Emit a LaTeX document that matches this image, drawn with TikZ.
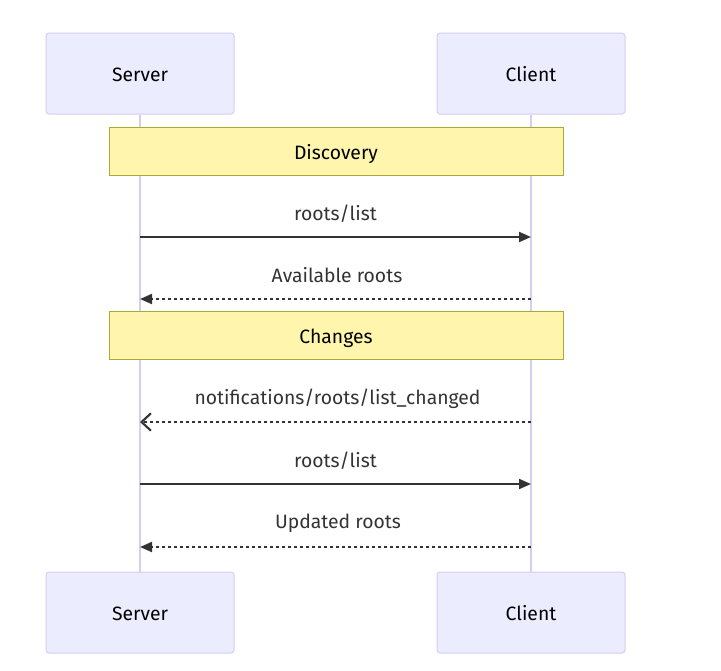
\documentclass[tikz,border=0pt]{standalone}
\usepackage{fontspec}
\setmainfont{Fira Sans}
\usetikzlibrary{arrows.meta}
\definecolor{actorfill}{HTML}{ECECFF}
\definecolor{actorline}{HTML}{D5CDF2}
\definecolor{notefill}{HTML}{FFF5AD}
\definecolor{noteline}{HTML}{AAAA33}
\definecolor{msgcolor}{HTML}{333333}

\begin{document}
\begin{tikzpicture}[x=0.75pt,y=0.75pt,yscale=-1,xscale=1,
  actor/.style={draw=actorline,fill=actorfill,rounded corners=2.25pt,line width=0.75pt,
    minimum width=141pt,minimum height=60.75pt,inner sep=0pt,text height=12pt,text depth=0pt,
    font=\fontsize{14.5}{17}\selectfont},
  lifeline/.style={draw=actorline,line width=1.5pt},
  notebox/.style={draw=noteline,fill=notefill,line width=0.75pt,
    minimum width=340.5pt,minimum height=36pt,inner sep=0pt,text height=12pt,text depth=0pt,
    font=\fontsize{14.5}{17}\selectfont},
  msgtext/.style={text=msgcolor,inner sep=0pt,font=\fontsize{14.5}{17}\selectfont},
  msg/.style={draw=msgcolor,line width=1.5pt,-{Triangle[length=9pt,width=7.5pt]}},
  reply/.style={msg,dash pattern=on 2.25pt off 2.25pt},
  async/.style={draw=msgcolor,line width=1.5pt,dash pattern=on 2.25pt off 2.25pt,
    -{Straight Barb[length=7pt,width=13pt,line width=1.6pt]}}]
\useasboundingbox (0,0) rectangle (721,671);

% actors
\node[actor] (srvtop) at (140,73.5) {Server};
\node[actor] (clttop) at (531,73.5) {Client};
\node[actor] (srvbot) at (140,612.5) {Server};
\node[actor] (cltbot) at (531,612.5) {Client};

% lifelines
\draw[lifeline] (srvtop) -- (srvbot);
\draw[lifeline] (clttop) -- (cltbot);

% notes
\node[notebox] (discovery) at (336,151) {Discovery};
\node[notebox] (changes) at (336,335.5) {Changes};

% message ends
\coordinate (s1) at (140,237); \coordinate (c1) at (531,237);
\coordinate (s2) at (140,299); \coordinate (c2) at (531,299);
\coordinate (s3) at (140,422); \coordinate (c3) at (531,422);
\coordinate (s4) at (140,484); \coordinate (c4) at (531,484);
\coordinate (s5) at (140,547); \coordinate (c5) at (531,547);

% messages
\draw[msg] (s1) -- (c1);
\node[msgtext] (m1) at (335.5,213.5) {roots/list};
\draw[reply] (c2) -- (s2);
\node[msgtext] (m2) at (337,275.5) {Available roots};
\draw[async] (c3) -- (s3);
\node[msgtext] (m3) at (337.5,398.5) {notifications/roots/list\_changed};
\draw[msg] (s4) -- (c4);
\node[msgtext] (m4) at (335.5,460.5) {roots/list};
\draw[reply] (c5) -- (s5);
\node[msgtext] (m5) at (338,523.5) {Updated roots};

\end{tikzpicture}
\end{document}
